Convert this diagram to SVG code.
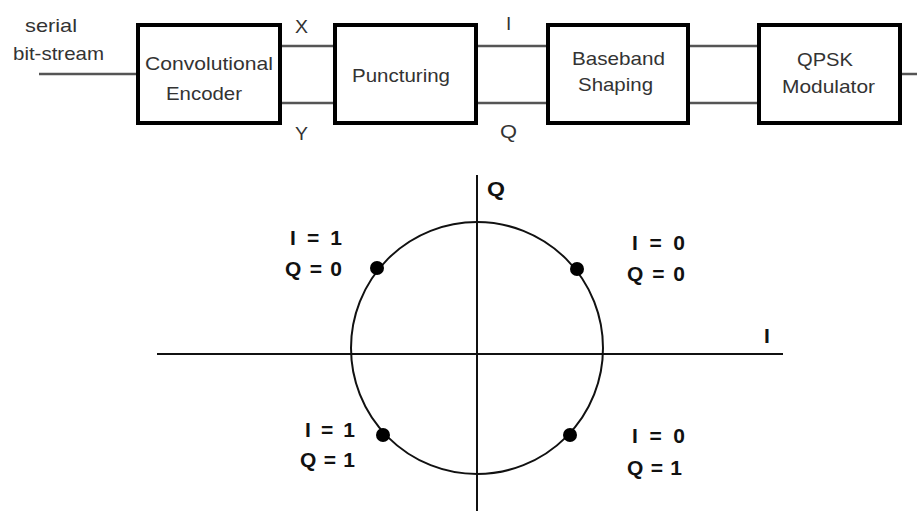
<svg xmlns="http://www.w3.org/2000/svg" width="917" height="511" viewBox="0 0 917 511">
<style>
.box{fill:#fff;stroke:#000;stroke-width:4}
.wire{stroke:#555;stroke-width:2.5;fill:none}
.ax{stroke:#111;stroke-width:2;fill:none}
.t{font-family:"Liberation Sans",Arial,sans-serif;font-size:19px;fill:#333}
.b{font-family:"Liberation Sans",Arial,sans-serif;font-size:21px;font-weight:bold;fill:#111}
.dot{fill:#000}
</style>
<rect width="917" height="511" fill="#fff"/>
<g id="connectors">
<line class="wire" x1="39" y1="74" x2="138" y2="74"/>
<line class="wire" x1="280" y1="46" x2="335" y2="46"/>
<line class="wire" x1="280" y1="103" x2="335" y2="103"/>
<line class="wire" x1="476" y1="46" x2="548" y2="46"/>
<line class="wire" x1="476" y1="103" x2="548" y2="103"/>
<line class="wire" x1="688" y1="46" x2="759" y2="46"/>
<line class="wire" x1="688" y1="103" x2="759" y2="103"/>
<line class="wire" x1="900" y1="74" x2="917" y2="74"/>
</g>
<g id="input-label">
<text class="t" x="25" y="32" textLength="52" lengthAdjust="spacingAndGlyphs">serial</text>
<text class="t" x="13" y="60" textLength="91" lengthAdjust="spacingAndGlyphs">bit-stream</text>
</g>
<g id="conv-encoder">
<rect class="box" x="138" y="25" width="142" height="98"/>
<text class="t" x="145" y="70" textLength="128" lengthAdjust="spacingAndGlyphs">Convolutional</text>
<text class="t" x="166" y="100" textLength="76" lengthAdjust="spacingAndGlyphs">Encoder</text>
</g>
<g id="wire-labels">
<text class="t" x="295" y="33" textLength="13" lengthAdjust="spacingAndGlyphs">X</text>
<text class="t" x="295" y="140" textLength="13" lengthAdjust="spacingAndGlyphs">Y</text>
<text class="t" x="506" y="30">I</text>
<text class="t" x="500" y="138" textLength="17" lengthAdjust="spacingAndGlyphs">Q</text>
</g>
<g id="puncturing">
<rect class="box" x="335" y="25" width="141" height="98"/>
<text class="t" x="352" y="82" textLength="98" lengthAdjust="spacingAndGlyphs">Puncturing</text>
</g>
<g id="baseband-shaping">
<rect class="box" x="548" y="25" width="140" height="98"/>
<text class="t" x="572" y="65" textLength="93" lengthAdjust="spacingAndGlyphs">Baseband</text>
<text class="t" x="578" y="91" textLength="75" lengthAdjust="spacingAndGlyphs">Shaping</text>
</g>
<g id="qpsk-modulator">
<rect class="box" x="759" y="25" width="141" height="98"/>
<text class="t" x="797" y="66" textLength="56" lengthAdjust="spacingAndGlyphs">QPSK</text>
<text class="t" x="782" y="93" textLength="93" lengthAdjust="spacingAndGlyphs">Modulator</text>
</g>
<g id="constellation">
<line class="ax" x1="157" y1="354" x2="783" y2="354"/>
<line class="ax" x1="477" y1="175" x2="477" y2="511"/>
<circle cx="477" cy="348" r="126" fill="none" stroke="#111" stroke-width="2"/>
<circle class="dot" cx="377" cy="268" r="7"/>
<circle class="dot" cx="577" cy="269" r="7"/>
<circle class="dot" cx="383" cy="435" r="7"/>
<circle class="dot" cx="570" cy="435" r="7"/>
<text class="b" x="487" y="196" textLength="18" lengthAdjust="spacingAndGlyphs">Q</text>
<text class="b" x="764" y="343">I</text>
<text class="b" x="290" y="245" textLength="52" lengthAdjust="spacing">I = 1</text>
<text class="b" x="285" y="276" textLength="57" lengthAdjust="spacing">Q = 0</text>
<text class="b" x="632" y="250" textLength="53" lengthAdjust="spacing">I = 0</text>
<text class="b" x="627" y="281" textLength="58" lengthAdjust="spacing">Q = 0</text>
<text class="b" x="305" y="437" textLength="50" lengthAdjust="spacing">I = 1</text>
<text class="b" x="300" y="467" textLength="55" lengthAdjust="spacing">Q = 1</text>
<text class="b" x="632" y="443" textLength="53" lengthAdjust="spacing">I = 0</text>
<text class="b" x="627" y="475" textLength="55" lengthAdjust="spacing">Q = 1</text>
</g>
</svg>
